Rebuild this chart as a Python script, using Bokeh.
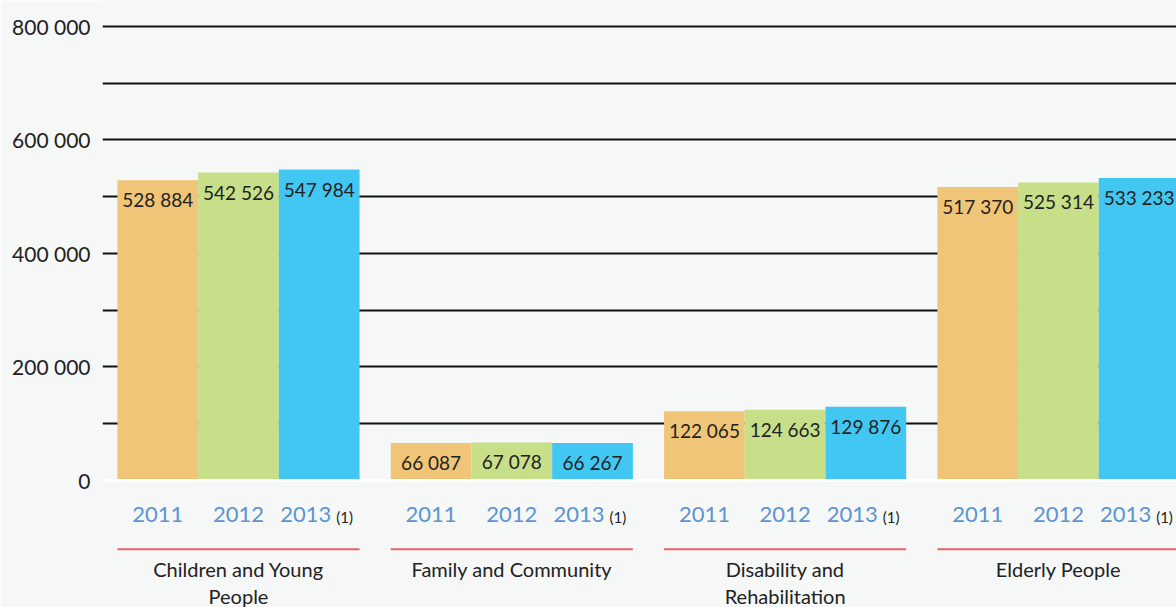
from bokeh.plotting import figure
from bokeh.models import Range1d, ColumnDataSource, FixedTicker, CustomJSTickFormatter, Span
from bokeh.core.properties import value
from bokeh.embed import file_html
from bokeh.resources import INLINE

categories = ["Children and Young\nPeople", "Family and Community", "Disability and\nRehabilitation", "Elderly People"]
years = ["2011", "2012", "2013"]
values_2011 = [528884, 66087, 122065, 517370]
values_2012 = [542526, 67078, 124663, 525314]
values_2013 = [547984, 66267, 129876, 533233]
y_ticks = [0, 200000, 400000, 600000, 800000]
grid_ticks = [100000, 200000, 300000, 400000, 500000, 600000, 700000, 800000]

colors = ["#f0c577", "#c8df8a", "#42c6f2"]
BG = "#f6f7f7"
bar_w = 0.2953

p = figure(width=1176, height=607, output_backend="svg", toolbar_location=None,
           x_range=Range1d(-0.4976, 3.432), y_range=Range1d(-223800, 845800),
           min_border_left=102, min_border_right=0, min_border_top=0, min_border_bottom=0,
           background_fill_color=BG, border_fill_color=BG, outline_line_color=None)

p.xaxis.visible = False
p.xgrid.visible = False
p.ygrid.ticker = FixedTicker(ticks=grid_ticks)
p.ygrid.grid_line_color = "#111111"
p.ygrid.grid_line_width = 2
p.yaxis.ticker = FixedTicker(ticks=y_ticks)
p.yaxis.formatter = CustomJSTickFormatter(code="return tick.toString().replace(/\\B(?=(\\d{3})+(?!\\d))/g, ' ');")
p.yaxis.axis_line_color = None
p.yaxis.major_tick_line_color = None
p.yaxis.minor_tick_line_color = None
p.yaxis.major_label_text_font = "Lato"
p.yaxis.major_label_text_font_size = "21px"
p.yaxis.major_label_text_color = "#222222"
p.yaxis.major_label_standoff = 6

p.add_layout(Span(location=0, dimension="width", line_color="white", line_width=3))

series = [values_2011, values_2012, values_2013]
offsets = [-bar_w, 0.0, bar_w]
for j, (vals, col, off) in enumerate(zip(series, colors, offsets)):
    xs = [i + off for i in range(len(categories))]
    src = ColumnDataSource(dict(x=xs, top=vals,
                                lab=[f"{v:,}".replace(",", " ") for v in vals]))
    p.vbar(x="x", top="top", bottom=0, width=bar_w, fill_color=col, line_color=None, source=src)
    p.text(x="x", y="top", text="lab", source=src, text_align="center", text_baseline="top",
           y_offset=8, text_font=value("Lato"), text_font_size="19px", text_color="#222222")
    ylab = ColumnDataSource(dict(x=xs, y=[-60000] * len(xs), t=[years[j]] * len(xs)))
    if j < 2:
        p.text(x="x", y="y", text="t", source=ylab, text_align="center", text_baseline="middle",
               text_font=value("Lato"), text_font_size="22px", text_color="#5b93d3")
    else:
        p.text(x="x", y="y", text="t", source=ylab, text_align="right", text_baseline="middle",
               x_offset=12, text_font=value("Lato"), text_font_size="22px", text_color="#5b93d3")
        note = ColumnDataSource(dict(x=xs, y=[-60000] * len(xs), t=["(1)"] * len(xs)))
        p.text(x="x", y="y", text="t", source=note, text_align="left", text_baseline="middle",
               x_offset=17, y_offset=2, text_font=value("Lato"), text_font_size="15px", text_color="#222222")

gi = list(range(len(categories)))
p.segment(x0=[g - 1.5 * bar_w for g in gi], x1=[g + 1.5 * bar_w for g in gi],
          y0=[-121000] * 4, y1=[-121000] * 4, line_color="#e4656b", line_width=2)
p.text(x=gi, y=[-134500] * 4, text=categories, text_align="center", text_baseline="top",
       text_font=value("Lato"), text_font_size="20px", text_color="#222222",
       text_line_height=1.15)

open("out.html", "w").write(file_html(p, INLINE))
